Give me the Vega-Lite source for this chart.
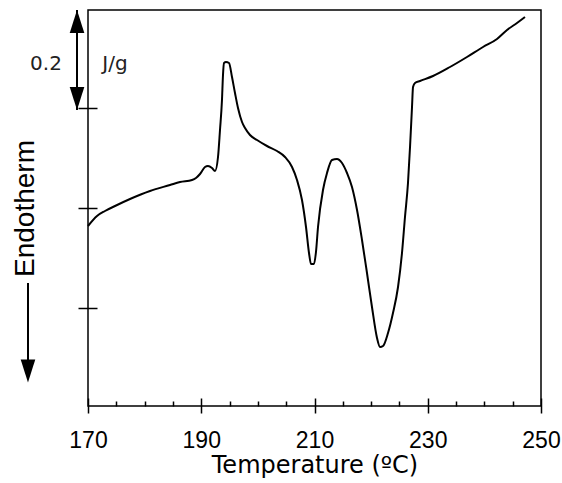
{
  "$schema": "https://vega.github.io/schema/vega-lite/v6.json",
  "width": 453,
  "height": 396,
  "autosize": "none",
  "padding": {"left": 88, "top": 10, "right": 21, "bottom": 77},
  "background": "white",
  "config": {
    "view": {"stroke": "#000", "strokeWidth": 1.5},
    "axis": {"grid": false, "tickColor": "#000", "tickWidth": 1.5, "labelColor": "#000", "titleColor": "#000"}
  },
  "datasets": {
    "curve": [
      {"t": 170.00, "v": 0.364}, {"t": 171.59, "v": 0.384}, {"t": 173.00, "v": 0.394}, {"t": 174.77, "v": 0.404},
      {"t": 177.42, "v": 0.418}, {"t": 180.95, "v": 0.434}, {"t": 184.48, "v": 0.446}, {"t": 186.25, "v": 0.452},
      {"t": 188.37, "v": 0.456}, {"t": 189.07, "v": 0.460}, {"t": 189.78, "v": 0.468}, {"t": 190.66, "v": 0.482},
      {"t": 191.19, "v": 0.484}, {"t": 191.90, "v": 0.480}, {"t": 192.43, "v": 0.474}, {"t": 192.96, "v": 0.502},
      {"t": 193.31, "v": 0.556}, {"t": 193.66, "v": 0.616}, {"t": 193.84, "v": 0.666}, {"t": 194.02, "v": 0.690},
      {"t": 194.37, "v": 0.692}, {"t": 194.90, "v": 0.690}, {"t": 195.43, "v": 0.662}, {"t": 195.96, "v": 0.630},
      {"t": 196.49, "v": 0.600}, {"t": 197.20, "v": 0.572}, {"t": 197.73, "v": 0.560}, {"t": 198.61, "v": 0.546},
      {"t": 199.85, "v": 0.536}, {"t": 201.61, "v": 0.524}, {"t": 203.38, "v": 0.514},
      {"t": 204.79, "v": 0.502}, {"t": 206.03, "v": 0.482}, {"t": 206.91, "v": 0.456}, {"t": 207.79, "v": 0.416},
      {"t": 208.50, "v": 0.362}, {"t": 209.03, "v": 0.310}, {"t": 209.38, "v": 0.288}, {"t": 209.91, "v": 0.288},
      {"t": 210.26, "v": 0.312}, {"t": 210.62, "v": 0.362}, {"t": 211.50, "v": 0.436}, {"t": 212.21, "v": 0.470},
      {"t": 213.09, "v": 0.496}, {"t": 213.97, "v": 0.498}, {"t": 214.86, "v": 0.490}, {"t": 215.74, "v": 0.470},
      {"t": 216.62, "v": 0.442}, {"t": 217.51, "v": 0.396}, {"t": 218.39, "v": 0.336}, {"t": 219.27, "v": 0.270},
      {"t": 220.15, "v": 0.202}, {"t": 221.04, "v": 0.140}, {"t": 221.57, "v": 0.122}, {"t": 222.10, "v": 0.124},
      {"t": 222.98, "v": 0.150}, {"t": 223.86, "v": 0.190}, {"t": 224.75, "v": 0.242}, {"t": 225.45, "v": 0.310},
      {"t": 225.98, "v": 0.382}, {"t": 226.51, "v": 0.450}, {"t": 226.87, "v": 0.522}, {"t": 227.22, "v": 0.602},
      {"t": 227.40, "v": 0.642}, {"t": 227.75, "v": 0.650}, {"t": 228.63, "v": 0.654}, {"t": 230.93, "v": 0.664},
      {"t": 233.93, "v": 0.682}, {"t": 236.93, "v": 0.702}, {"t": 239.76, "v": 0.722}, {"t": 242.23, "v": 0.738},
      {"t": 244.00, "v": 0.756}, {"t": 245.76, "v": 0.770}, {"t": 247.17, "v": 0.782}
    ],
    "bars": [
      {"x": 168.06, "y": 0.596, "y2": 0.796},
      {"x": 159.4, "y": 0.25, "y2": 0.09}
    ],
    "heads": [
      {"x": 168.06, "y": 0.773, "dir": "up"},
      {"x": 168.06, "y": 0.619, "dir": "down"},
      {"x": 159.4, "y": 0.074, "dir": "down"}
    ],
    "notes": [
      {"x": 162.58, "y": 0.688, "text": "0.2"},
      {"x": 174.77, "y": 0.688, "text": "J/g"}
    ]
  },
  "resolve": {"axis": {"x": "independent", "y": "independent"}},
  "layer": [
    {
      "data": {"name": "curve"},
      "mark": {"type": "line", "color": "#000", "strokeWidth": 2, "interpolate": "monotone"},
      "encoding": {
        "x": {"field": "t", "type": "quantitative", "scale": {"domain": [170, 250], "nice": false, "zero": false},
          "axis": {"orient": "bottom", "values": [170, 190, 210, 230, 250], "offset": -8, "tickSize": 15, "domain": false,
            "labelFont": "Liberation Sans", "labelFontSize": 23, "labelPadding": 16, "labelOverlap": false, "labelFlush": false,
            "title": "Temperature (ºC)", "titleFont": "DejaVu Sans", "titleFontSize": 24, "titleFontWeight": "normal", "titlePadding": 1}},
        "y": {"field": "v", "type": "quantitative", "scale": {"domain": [0.004, 0.796], "nice": false, "zero": false},
          "axis": {"orient": "left", "values": [0.2, 0.4, 0.6], "offset": -9, "tickSize": 19, "domain": false, "labels": false,
            "title": "Endotherm", "titleFont": "Liberation Sans", "titleFontSize": 28, "titleFontWeight": "normal", "titlePadding": 38}}
      }
    },
    {
      "data": {"name": "curve"},
      "mark": {"type": "line", "strokeOpacity": 0},
      "encoding": {
        "x": {"field": "t", "type": "quantitative", "scale": {"domain": [170, 250], "nice": false, "zero": false},
          "axis": {"orient": "bottom", "values": [175, 180, 185, 195, 200, 205, 215, 220, 225, 235, 240, 245], "offset": -5, "tickSize": 5,
            "domain": false, "labels": false, "title": null}},
        "y": {"field": "v", "type": "quantitative", "scale": {"domain": [0.004, 0.796], "nice": false, "zero": false}, "axis": null}
      }
    },
    {
      "data": {"name": "bars"},
      "mark": {"type": "rule", "color": "#000", "strokeWidth": 2, "clip": false},
      "encoding": {
        "x": {"field": "x", "type": "quantitative", "scale": {"domain": [170, 250], "nice": false, "zero": false}, "axis": null},
        "y": {"field": "y", "type": "quantitative", "scale": {"domain": [0.004, 0.796], "nice": false, "zero": false}, "axis": null},
        "y2": {"field": "y2"}
      }
    },
    {
      "data": {"name": "heads"},
      "mark": {"type": "point", "filled": true, "color": "#000", "opacity": 1, "size": 520, "clip": false},
      "encoding": {
        "x": {"field": "x", "type": "quantitative", "scale": {"domain": [170, 250], "nice": false, "zero": false}, "axis": null},
        "y": {"field": "y", "type": "quantitative", "scale": {"domain": [0.004, 0.796], "nice": false, "zero": false}, "axis": null},
        "shape": {"field": "dir", "type": "nominal", "legend": null,
          "scale": {"domain": ["up", "down"], "range": ["M0,-1L0.64,1L-0.64,1Z", "M0,1L0.64,-1L-0.64,-1Z"]}}
      }
    },
    {
      "data": {"name": "notes"},
      "mark": {"type": "text", "font": "DejaVu Sans", "fontSize": 20, "color": "#222", "align": "center", "baseline": "middle", "clip": false},
      "encoding": {
        "x": {"field": "x", "type": "quantitative", "scale": {"domain": [170, 250], "nice": false, "zero": false}, "axis": null},
        "y": {"field": "y", "type": "quantitative", "scale": {"domain": [0.004, 0.796], "nice": false, "zero": false}, "axis": null},
        "text": {"field": "text", "type": "nominal"}
      }
    }
  ]
}
